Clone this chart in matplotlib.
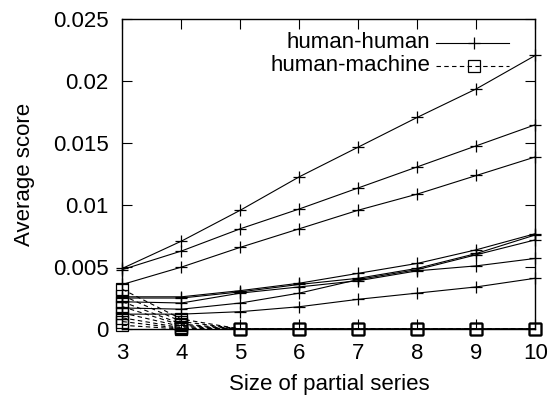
import numpy as np
import matplotlib
matplotlib.use("Agg")
import matplotlib.pyplot as plt
from matplotlib.ticker import FuncFormatter

plt.rcParams['font.family'] = ['Liberation Sans', 'DejaVu Sans']

# partial series sizes
sizes = [3, 4, 5, 6, 7, 8, 9, 10]

# average scores, one row per run
human_human = [
    [0.0049, 0.0071, 0.0096, 0.0123, 0.0147, 0.0171, 0.0194, 0.0221],
    [0.0048, 0.0063, 0.0081, 0.0097, 0.0114, 0.0131, 0.0148, 0.0165],
    [0.0036, 0.0050, 0.0066, 0.0081, 0.0096, 0.0109, 0.0124, 0.0139],
    [0.0026, 0.0026, 0.0031, 0.0037, 0.0045, 0.0053, 0.0064, 0.0077],
    [0.0025, 0.0025, 0.0030, 0.0036, 0.0041, 0.0049, 0.0061, 0.0076],
    [0.0022, 0.0021, 0.0029, 0.0034, 0.0039, 0.0047, 0.0051, 0.0057],
    [0.0017, 0.0016, 0.0021, 0.0029, 0.0040, 0.0048, 0.0060, 0.0072],
    [0.0012, 0.0012, 0.0014, 0.0018, 0.0024, 0.0029, 0.0034, 0.0041],
]
human_machine = [
    [0.0032, 0.0008, 0.0, 0.0, 0.0, 0.0, 0.0, 0.0],
    [0.0027, 0.0006, 0.0, 0.0, 0.0, 0.0, 0.0, 0.0],
    [0.0022, 0.0004, 0.0, 0.0, 0.0, 0.0, 0.0, 0.0],
    [0.0018, 0.0003, 0.0, 0.0, 0.0, 0.0, 0.0, 0.0],
    [0.0013, 0.0002, 0.0, 0.0, 0.0, 0.0, 0.0, 0.0],
    [0.0009, 0.0001, 0.0, 0.0, 0.0, 0.0, 0.0, 0.0],
    [0.0006, 0.00005, 0.0, 0.0, 0.0, 0.0, 0.0, 0.0],
    [0.0003, 0.0, 0.0, 0.0, 0.0, 0.0, 0.0, 0.0],
]
y_ticks = [0, 0.005, 0.01, 0.015, 0.02, 0.025]

fs = 16
fig = plt.figure(figsize=(5.48, 3.96), dpi=100)
ax = fig.add_axes([0.2235, 0.1692, 0.7535, 0.7816])

dash = (0, (4, 3))
for row in human_machine:
    ax.plot(sizes, row, color='black', linestyle=dash, linewidth=0.8,
            marker='s', markersize=8, markerfacecolor='none',
            markeredgewidth=0.9, clip_on=False)
for row in human_human:
    ax.plot(sizes, row, color='black', linestyle='-', linewidth=0.8,
            marker='+', markersize=9, markeredgewidth=0.9, clip_on=False)

ax.set_xlim(3, 10)
ax.set_ylim(0, 0.025)
ax.set_xticks(sizes)
ax.set_yticks(y_ticks)
ax.yaxis.set_major_formatter(FuncFormatter(lambda v, p: '%g' % v))
ax.tick_params(direction='in', length=7, width=0.8, top=True, right=True,
               labelsize=fs, colors='black')
ax.tick_params(axis='x', pad=10)
ax.tick_params(axis='y', pad=10)
for s in ax.spines.values():
    s.set_linewidth(1.0)

ax.set_xlabel('Size of partial series', fontsize=fs, labelpad=7)
ax.set_ylabel('Average score', fontsize=fs, labelpad=13)

# gnuplot style key: right-justified text, sample on the right
key = [('human-human', '-', '+'), ('human-machine', dash, 's')]
for i, (lab, ls, mk) in enumerate(key):
    yk = 0.925 - i * 0.075
    ax.text(0.745, yk, lab, transform=ax.transAxes, ha='right', va='center',
            fontsize=fs)
    ax.plot([0.76, 0.937], [yk, yk], transform=ax.transAxes, color='black',
            linestyle=ls, linewidth=0.8)
    ax.plot([0.8515], [yk], transform=ax.transAxes, color='black',
            marker=mk, markersize=8 if mk == 's' else 9,
            markerfacecolor='none', markeredgewidth=0.9)

fig.savefig('out.png', dpi=100)
